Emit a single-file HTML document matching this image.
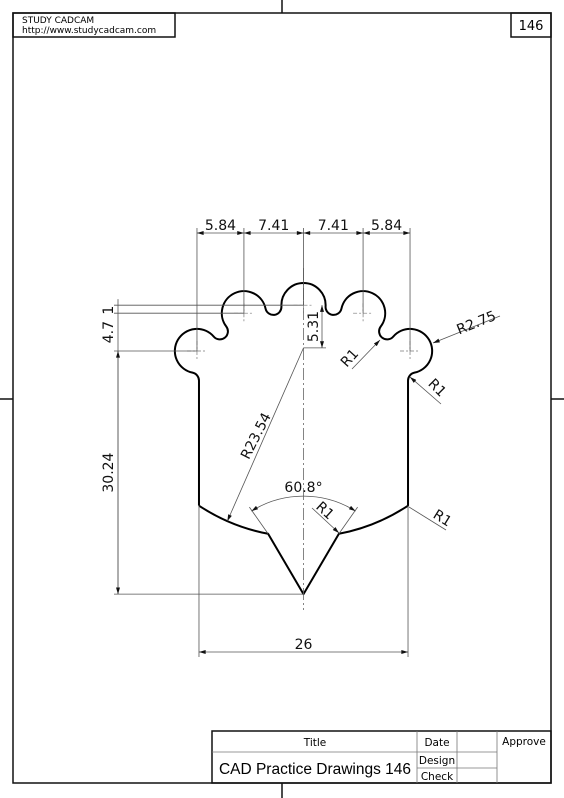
<!DOCTYPE html>
<html><head><meta charset="utf-8">
<style>
html,body{margin:0;padding:0;background:#fff;}
svg{display:block;font-family:"DejaVu Sans","Liberation Sans",sans-serif;}
.dim{stroke:#555;stroke-width:0.8;fill:none;}
.t{font-size:14px;fill:#111;}
</style></head>
<body>
<svg id="s" width="564" height="798" viewBox="0 0 564 798">
<defs>
<marker id="ar" viewBox="0 0 10 6" refX="10" refY="3" markerWidth="9" markerHeight="5" orient="auto-start-reverse"><path d="M0,0 L10,3 L0,6 z" fill="#111"/></marker>
</defs>
<g stroke="#111" fill="none" stroke-width="1.5">
<rect x="13" y="13" width="538" height="770"/>
<rect x="13" y="13" width="162" height="24"/>
<rect x="511" y="13" width="40" height="24"/>
<line x1="282" y1="0" x2="282" y2="13"/><line x1="282" y1="783" x2="282" y2="798"/>
<line x1="0" y1="399" x2="13" y2="399"/><line x1="551" y1="399" x2="564" y2="399"/>
</g>
<text x="22" y="23" font-size="9">STUDY CADCAM</text>
<text x="22" y="33" font-size="9">http://www.studycadcam.com</text>
<text x="531" y="30" font-size="13" text-anchor="middle">146</text>
<g>
<rect x="212" y="731" width="339" height="52" fill="none" stroke="#111" stroke-width="1.5"/>
<g stroke="#777" stroke-width="0.8">
<line x1="212" y1="752" x2="497" y2="752"/>
<line x1="417" y1="731" x2="417" y2="783"/>
<line x1="457" y1="731" x2="457" y2="783"/>
<line x1="497" y1="731" x2="497" y2="783"/>
<line x1="417" y1="768" x2="497" y2="768"/>
</g>
<text x="315" y="746" font-size="10.5" text-anchor="middle">Title</text>
<text x="437" y="746" font-size="10.5" text-anchor="middle">Date</text>
<text x="524" y="745" font-size="10.5" text-anchor="middle">Approve</text>
<text x="437" y="764" font-size="10.5" text-anchor="middle">Design</text>
<text x="437" y="780" font-size="10.5" text-anchor="middle">Check</text>
<text x="315" y="774" font-size="15.5" text-anchor="middle" style="font-family:'Liberation Sans',sans-serif">CAD Practice Drawings 146</text>
</g>
<g id="geo"></g>
</svg>
<script>
const NS="http://www.w3.org/2000/svg";
const g=document.getElementById('geo');
const S=8.04, CX=303.5, CY0=351;
const R=2.75*S, r=1*S;
function el(tag,attrs,name){const e=document.createElementNS(NS,tag);for(const k in attrs)e.setAttribute(k,attrs[k]);


g.appendChild(e);return e;}
function txt(x,y,s,rot,name){const e=el('text',{x:x,y:y,'class':'t','text-anchor':'middle',transform:rot?`rotate(${rot} ${x} ${y})`:''},name);e.textContent=s;return e;}
const xA=CX-13.25*S, xB=CX-7.41*S, xD=CX+7.41*S, xE=CX+13.25*S;
const yOut=CY0, yIn=CY0-4.7*S, yMid=yIn-1*S;
const C=[[xA,yOut],[xB,yIn],[CX,yMid],[xD,yIn],[xE,yOut]];
const wl=CX-13*S, wr=CX+13*S;
const arcC=[CX,yMid+5.31*S], arcR=23.54*S;
const tipY=CY0+30.24*S, half=30.4*Math.PI/180;
function filC(p,q){const d=Math.hypot(q[0]-p[0],q[1]-p[1]);const m=[(p[0]+q[0])/2,(p[1]+q[1])/2];
const h=Math.sqrt((R+r)**2-(d/2)**2);const ux=-(q[1]-p[1])/d,uy=(q[0]-p[0])/d;
const a=[m[0]+ux*h,m[1]+uy*h],b=[m[0]-ux*h,m[1]-uy*h];
return (Math.hypot(a[0]-CX,a[1]-420)>Math.hypot(b[0]-CX,b[1]-420))?a:b;}
function onC(c,f,rad){const d=Math.hypot(f[0]-c[0],f[1]-c[1]);return [c[0]+(f[0]-c[0])/d*rad,c[1]+(f[1]-c[1])/d*rad];}
function large(c,p1,p2){let a1=Math.atan2(p1[1]-c[1],p1[0]-c[0]),a2=Math.atan2(p2[1]-c[1],p2[0]-c[0]);let s=(a2-a1)%(2*Math.PI);if(s<0)s+=2*Math.PI;return s>Math.PI?1:0;}
const fyL=yOut+Math.sqrt((R+r)**2-(wl-r-xA)**2);
const fL=[wl-r,fyL], fR=[wr+r,fyL];
const wallBotY=arcC[1]+Math.sqrt(arcR**2-(wl-CX)**2);
function vInt(sign){let lo=0,hi=200,pt;for(let i=0;i<60;i++){const t=(lo+hi)/2;const p=[CX+sign*Math.sin(half)*t,tipY-Math.cos(half)*t];if(Math.hypot(p[0]-arcC[0],p[1]-arcC[1])<arcR)hi=t;else lo=t;pt=p;}return pt;}
const vL=vInt(-1), vR=vInt(1);
let d=`M${wl},${wallBotY} L${wl},${fyL}`;
let prev=onC(C[0],fL,R);
d+=` A${r},${r} 0 0 0 ${prev[0]},${prev[1]}`;
for(let i=0;i<4;i++){const f=filC(C[i],C[i+1]);const t1=onC(C[i],f,R),t2=onC(C[i+1],f,R);
d+=` A${R},${R} 0 ${large(C[i],prev,t1)} 1 ${t1[0]},${t1[1]}`;
d+=` A${r},${r} 0 0 0 ${t2[0]},${t2[1]}`;prev=t2;}
const tE=onC(C[4],fR,R);
d+=` A${R},${R} 0 ${large(C[4],prev,tE)} 1 ${tE[0]},${tE[1]}`;
d+=` A${r},${r} 0 0 0 ${wr},${fyL} L${wr},${wallBotY}`;
d+=` A${arcR},${arcR} 0 0 1 ${vR[0]},${vR[1]} L${CX},${tipY} L${vL[0]},${vL[1]} A${arcR},${arcR} 0 0 1 ${wl},${wallBotY}`;
el('path',{d:d,fill:'none',stroke:'#000','stroke-width':2,'stroke-linejoin':'round'},'part-outline');
el('line',{x1:CX,y1:268,x2:CX,y2:610,stroke:'#666','stroke-width':0.8,'stroke-dasharray':'12 3 2 3'},'vertical-centerline');
C.forEach((c,i)=>{
 el('line',{x1:c[0]-10,y1:c[1],x2:c[0]+10,y2:c[1],stroke:'#777','stroke-width':0.7,'stroke-dasharray':'4 2 2 2'},'center-mark-h');
 el('line',{x1:c[0],y1:c[1]-10,x2:c[0],y2:c[1]+10,stroke:'#777','stroke-width':0.7,'stroke-dasharray':'4 2 2 2'},'center-mark-v');
});
const dy=233;
[xA,xB,CX,xD,xE].forEach(x=>el('line',{x1:x,y1:dy-5,x2:x,y2:x===CX?yMid:(x===xA||x===xE?yOut:yIn),'class':'dim'},'extension-line'));
const tops=[[xA,xB,'5.84'],[xB,CX,'7.41'],[CX,xD,'7.41'],[xD,xE,'5.84']];
tops.forEach(p=>{el('line',{x1:p[0],y1:dy,x2:p[1],y2:dy,'class':'dim','marker-start':'url(#ar)','marker-end':'url(#ar)'},'dimension-line');
txt((p[0]+p[1])/2,dy-3,p[2],0,'dimension-'+p[2]);});
const lx=118;
el('line',{x1:lx-4,y1:yMid,x2:CX,y2:yMid,'class':'dim'},'extension-line');
el('line',{x1:lx-4,y1:yIn,x2:xB,y2:yIn,'class':'dim'},'extension-line');
el('line',{x1:lx-4,y1:yOut,x2:xA,y2:yOut,'class':'dim'},'extension-line');
el('line',{x1:lx-4,y1:tipY,x2:CX,y2:tipY,'class':'dim'},'extension-line');
el('line',{x1:lx,y1:yMid-6,x2:lx,y2:tipY,'class':'dim'},'dimension-line');
el('line',{x1:lx,y1:yOut,x2:lx,y2:tipY,'class':'dim','marker-start':'url(#ar)','marker-end':'url(#ar)'},'dimension-30-24-line');
txt(113,(yOut+tipY)/2,'30.24',-90,'dimension-30.24');
txt(113,(yIn+yOut)/2,'4.7',-90,'dimension-4.7');
txt(113,yMid+5,'1',-90,'dimension-1');
el('line',{x1:CX,y1:arcC[1],x2:326,y2:arcC[1],'class':'dim'},'extension-line');
el('line',{x1:322,y1:yMid,x2:322,y2:arcC[1],'class':'dim','marker-start':'url(#ar)','marker-end':'url(#ar)'},'dimension-line');
txt(318,(yMid+arcC[1])/2,'5.31',-90,'dimension-5.31');
const ang=Math.atan2(wallBotY+14-arcC[1],228-CX);
const lp=[CX+arcR*Math.cos(ang),arcC[1]+arcR*Math.sin(ang)];
el('line',{x1:CX,y1:arcC[1],x2:lp[0],y2:lp[1],'class':'dim','marker-end':'url(#ar)'},'radius-leader');
txt(260,438,'R23.54',-63,'dimension-R23.54');
const aR=98;
const a1=[CX-aR*Math.sin(half+0.03),tipY-aR*Math.cos(half+0.03)],a2=[CX+aR*Math.sin(half+0.03),tipY-aR*Math.cos(half+0.03)];
el('path',{d:`M${a1[0]},${a1[1]} A${aR},${aR} 0 0 1 ${a2[0]},${a2[1]}`,'class':'dim','marker-start':'url(#ar)','marker-end':'url(#ar)'},'angle-arc');
el('line',{x1:vL[0],y1:vL[1],x2:a1[0]-2,y2:a1[1]-4,'class':'dim'},'extension-line');
el('line',{x1:vR[0],y1:vR[1],x2:a2[0]+2,y2:a2[1]-4,'class':'dim'},'extension-line');
txt(CX,492,'60.8°',0,'dimension-angle');
el('line',{x1:wl,y1:wallBotY,x2:wl,y2:657,'class':'dim'},'extension-line');
el('line',{x1:wr,y1:wallBotY,x2:wr,y2:657,'class':'dim'},'extension-line');
el('line',{x1:wl,y1:652,x2:wr,y2:652,'class':'dim','marker-start':'url(#ar)','marker-end':'url(#ar)'},'dimension-line');
txt(CX,649,'26',0,'dimension-26');
el('line',{x1:500,y1:316,x2:433,y2:343,'class':'dim','marker-end':'url(#ar)'},'radius-leader');
txt(478,327,'R2.75',-22,'dimension-R2.75');
el('line',{x1:352,y1:369,x2:380,y2:340,'class':'dim','marker-end':'url(#ar)'},'radius-leader');
txt(353,361,'R1',-48,'dimension-R1');
el('line',{x1:441,y1:404,x2:410,y2:377,'class':'dim','marker-end':'url(#ar)'},'radius-leader');
txt(434,391,'R1',45,'dimension-R1');
el('line',{x1:446,y1:530,x2:409,y2:507,'class':'dim'},'radius-leader');
txt(440,522,'R1',32,'dimension-R1');
el('line',{x1:312,y1:508,x2:339,y2:533,'class':'dim','marker-end':'url(#ar)'},'radius-leader');
txt(322,514,'R1',42,'dimension-R1');
</script>
</body></html>
